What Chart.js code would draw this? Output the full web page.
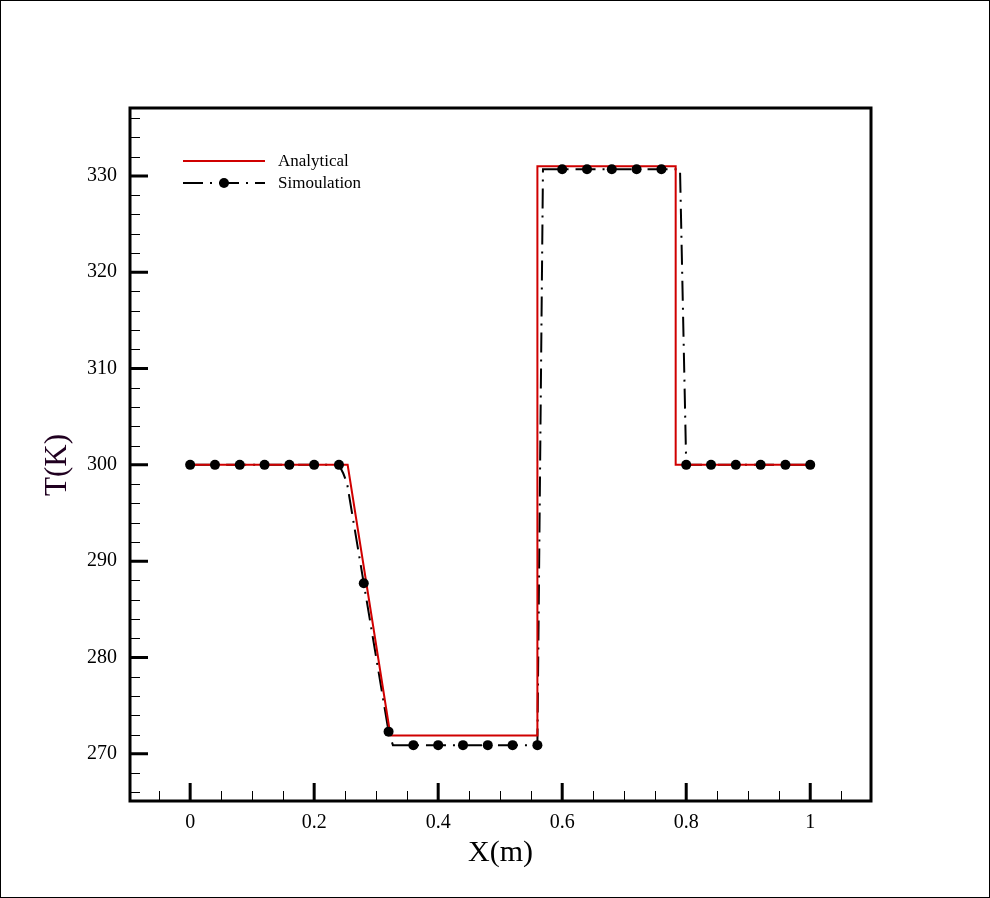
<!DOCTYPE html>
<html>
<head>
<meta charset="utf-8">
<script src="https://cdn.jsdelivr.net/npm/chart.js@4/dist/chart.umd.min.js"></script>
<style>
  html, body { margin: 0; padding: 0; background: #fff; }
  canvas { display: block; }
</style>
</head>
<body>
<canvas id="chart" width="990" height="898"></canvas>
<script>
(function() {
  // analytical solution
  var anaX = [0, 0.254, 0.323, 0.56, 0.56, 0.783, 0.783, 1];
  var anaT = [300, 300, 271.9, 271.9, 331, 331, 300, 300];

  // simulation line (dash-dot)
  var simX = [0, 0.04, 0.08, 0.12, 0.16, 0.2, 0.24, 0.247, 0.253, 0.28, 0.32, 0.327,
              0.36, 0.4, 0.44, 0.48, 0.52, 0.56, 0.569, 0.6, 0.64, 0.68, 0.72, 0.76,
              0.79, 0.8, 0.84, 0.88, 0.92, 0.96, 1];
  var simT = [300, 300, 300, 300, 300, 300, 300, 299.1, 298.1, 287.7, 272.3, 270.9,
              270.9, 270.9, 270.9, 270.9, 270.9, 270.9, 330.7, 330.7, 330.7, 330.7, 330.7, 330.7,
              330.7, 300, 300, 300, 300, 300, 300];

  // simulation markers
  var markX = [0, 0.04, 0.08, 0.12, 0.16, 0.2, 0.24, 0.28, 0.32, 0.36, 0.4, 0.44, 0.48,
               0.52, 0.56, 0.6, 0.64, 0.68, 0.72, 0.76, 0.8, 0.84, 0.88, 0.92, 0.96, 1];
  var markT = [300, 300, 300, 300, 300, 300, 300, 287.7, 272.3, 270.9, 270.9, 270.9, 270.9,
               270.9, 270.9, 330.7, 330.7, 330.7, 330.7, 330.7, 300, 300, 300, 300, 300, 300];

  var xTicks = [0, 0.2, 0.4, 0.6, 0.8, 1];
  var yTicks = [270, 280, 290, 300, 310, 320, 330];
  var xMinorStep = 0.05;
  var yMinorStep = 2;

  var FONT = '"Liberation Serif", "Times New Roman", serif';
  var RED = '#d00000';

  function pairs(xs, ys) {
    return xs.map(function(x, i) { return { x: x, y: ys[i] }; });
  }

  var whiteBg = {
    id: 'whiteBg',
    beforeDraw: function(chart) {
      var c = chart.ctx;
      c.save();
      c.fillStyle = '#fff';
      c.fillRect(0, 0, chart.width, chart.height);
      c.restore();
    }
  };

  // frame, inward ticks, legend, y title, outer border
  var decor = {
    id: 'decor',
    afterDatasetsDraw: function(chart) {
      var c = chart.ctx;
      var ca = chart.chartArea;
      var xs = chart.scales.x, ys = chart.scales.y;
      c.save();
      c.strokeStyle = '#000';

      // minor ticks
      c.lineWidth = 1;
      c.beginPath();
      var v, p;
      for (v = Math.ceil(xs.min / xMinorStep) * xMinorStep; v <= xs.max + 1e-9; v += xMinorStep) {
        var r = Math.round(v * 100) / 100;
        if (Math.abs(r * 5 - Math.round(r * 5)) < 1e-6) continue;
        p = Math.round(xs.getPixelForValue(r)) + 0.5;
        c.moveTo(p, ca.bottom);
        c.lineTo(p, ca.bottom - 10);
      }
      for (v = Math.ceil(ys.min / yMinorStep) * yMinorStep; v <= ys.max; v += yMinorStep) {
        if (v % 10 === 0) continue;
        p = Math.round(ys.getPixelForValue(v)) + 0.5;
        c.moveTo(ca.left, p);
        c.lineTo(ca.left + 10, p);
      }
      c.stroke();

      // major ticks
      c.lineWidth = 3;
      c.beginPath();
      xTicks.forEach(function(t) {
        var px = xs.getPixelForValue(t);
        c.moveTo(px, ca.bottom);
        c.lineTo(px, ca.bottom - 18);
      });
      yTicks.forEach(function(t) {
        var py = ys.getPixelForValue(t);
        c.moveTo(ca.left, py);
        c.lineTo(ca.left + 18, py);
      });
      c.stroke();

      // frame
      c.lineWidth = 3;
      c.strokeRect(ca.left, ca.top, ca.right - ca.left, ca.bottom - ca.top);

      // legend
      c.lineWidth = 2;
      c.strokeStyle = RED;
      c.beginPath();
      c.moveTo(183, 161);
      c.lineTo(265, 161);
      c.stroke();

      c.strokeStyle = '#000';
      c.setLineDash([20, 7, 2, 7]);
      c.beginPath();
      c.moveTo(183, 183);
      c.lineTo(265, 183);
      c.stroke();
      c.setLineDash([]);
      c.fillStyle = '#000';
      c.beginPath();
      c.arc(224, 183, 5, 0, Math.PI * 2);
      c.fill();

      c.font = '17px ' + FONT;
      c.textBaseline = 'middle';
      c.textAlign = 'left';
      c.fillText('Analytical', 278, 162);
      c.fillText('Simoulation', 278, 184);

      // y axis title
      c.save();
      c.translate(58, 465);
      c.rotate(-Math.PI / 2);
      c.font = '31px ' + FONT;
      c.fillStyle = '#200020';
      c.textAlign = 'center';
      c.textBaseline = 'middle';
      c.fillText('T(K)', 0, 0);
      c.restore();

      // outer border
      c.lineWidth = 1;
      c.strokeStyle = '#000';
      c.strokeRect(0.5, 0.5, chart.width - 1, chart.height - 1);
      c.restore();
    }
  };

  new Chart(document.getElementById('chart'), {
    type: 'line',
    data: {
      datasets: [
        {
          label: 'Simoulation markers',
          data: pairs(markX, markT),
          showLine: false,
          pointRadius: 5,
          pointBackgroundColor: '#000',
          pointBorderColor: '#000',
          pointBorderWidth: 0,
          order: 0
        },
        {
          label: 'Analytical',
          data: pairs(anaX, anaT),
          borderColor: RED,
          borderWidth: 2,
          pointRadius: 0,
          tension: 0,
          order: 1
        },
        {
          label: 'Simoulation',
          data: pairs(simX, simT),
          borderColor: '#000',
          borderWidth: 2,
          borderDash: [20, 7, 2, 7],
          pointRadius: 0,
          tension: 0,
          order: 2
        }
      ]
    },
    options: {
      responsive: false,
      animation: false,
      devicePixelRatio: 1,
      events: [],
      layout: { padding: { top: 108, right: 119, left: 0, bottom: 0 } },
      plugins: {
        legend: { display: false },
        tooltip: { enabled: false }
      },
      scales: {
        x: {
          type: 'linear',
          min: -0.097,
          max: 1.098,
          afterFit: function(scale) { scale.height = 97; },
          afterBuildTicks: function(scale) {
            scale.ticks = xTicks.map(function(v) { return { value: v }; });
          },
          grid: { display: false, drawTicks: false },
          border: { display: false },
          ticks: {
            padding: 10,
            color: '#000',
            font: { family: FONT, size: 20 },
            maxRotation: 0,
            callback: function(v) { return String(Math.round(v * 10) / 10); }
          },
          title: {
            display: true,
            text: 'X(m)',
            color: '#000',
            font: { family: FONT, size: 30 },
            padding: { top: 0, bottom: 27 }
          }
        },
        y: {
          type: 'linear',
          min: 265.1,
          max: 337.05,
          afterFit: function(scale) { scale.width = 130; },
          afterBuildTicks: function(scale) {
            scale.ticks = yTicks.map(function(v) { return { value: v }; });
          },
          grid: { display: false, drawTicks: false },
          border: { display: false },
          ticks: {
            padding: 13,
            color: '#000',
            font: { family: FONT, size: 20 }
          },
          title: { display: false }
        }
      }
    },
    plugins: [whiteBg, decor]
  });
})();
</script>
</body>
</html>
